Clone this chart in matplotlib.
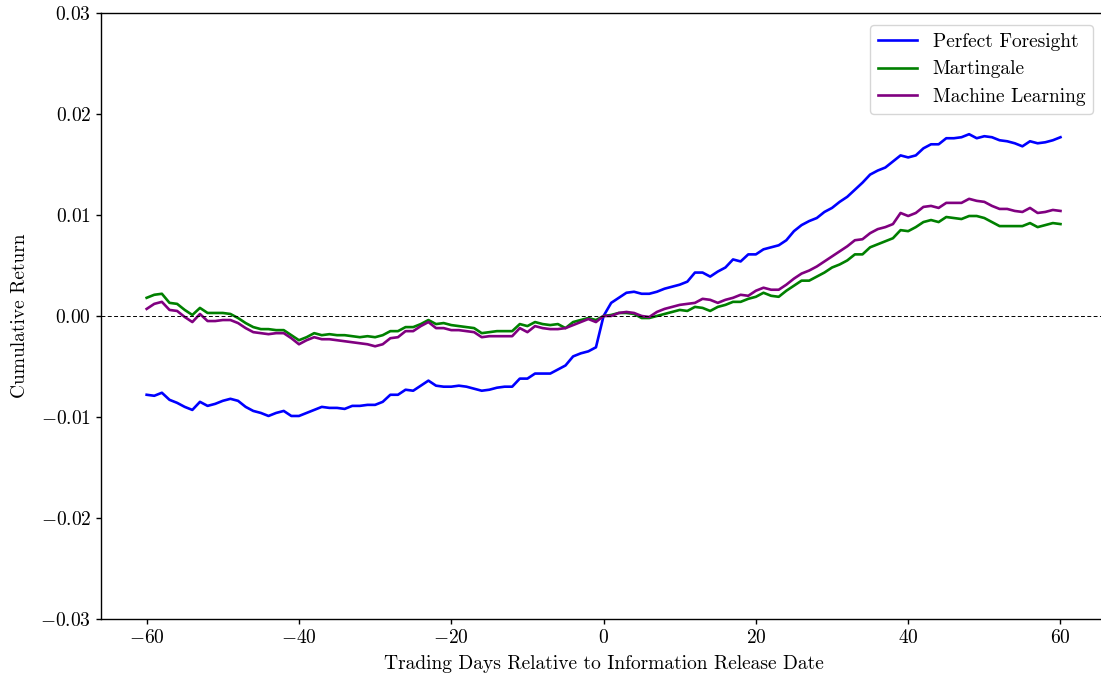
import numpy as np
import matplotlib
matplotlib.use("Agg")
import matplotlib.pyplot as plt

plt.rcParams['font.family'] = 'serif'
plt.rcParams['font.serif'] = ['cmr10', 'DejaVu Serif']
plt.rcParams['mathtext.fontset'] = 'cm'
plt.rcParams['axes.formatter.use_mathtext'] = True
plt.rcParams['axes.unicode_minus'] = True

days = list(range(-60, 61))

perfect_foresight = [
    -0.0078, -0.0079, -0.0076, -0.0083, -0.0086, -0.0090, -0.0093, -0.0085, -0.0089, -0.0087,
    -0.0084, -0.0082, -0.0084, -0.0090, -0.0094, -0.0096, -0.0099, -0.0096, -0.0094, -0.0099,
    -0.0099, -0.0096, -0.0093, -0.0090, -0.0091, -0.0091, -0.0092, -0.0089, -0.0089, -0.0088,
    -0.0088, -0.0085, -0.0078, -0.0078, -0.0073, -0.0074, -0.0069, -0.0064, -0.0069, -0.0070,
    -0.0070, -0.0069, -0.0070, -0.0072, -0.0074, -0.0073, -0.0071, -0.0070, -0.0070, -0.0062,
    -0.0062, -0.0057, -0.0057, -0.0057, -0.0053, -0.0049, -0.0040, -0.0037, -0.0035, -0.0031,
    0.0000, 0.0013, 0.0018, 0.0023, 0.0024, 0.0022, 0.0022, 0.0024, 0.0027, 0.0029,
    0.0031, 0.0034, 0.0043, 0.0043, 0.0039, 0.0044, 0.0048, 0.0056, 0.0054, 0.0061,
    0.0061, 0.0066, 0.0068, 0.0070, 0.0075, 0.0084, 0.0090, 0.0094, 0.0097, 0.0103,
    0.0107, 0.0113, 0.0118, 0.0125, 0.0132, 0.0140, 0.0144, 0.0147, 0.0153, 0.0159,
    0.0157, 0.0159, 0.0166, 0.0170, 0.0170, 0.0176, 0.0176, 0.0177, 0.0180, 0.0176,
    0.0178, 0.0177, 0.0174, 0.0173, 0.0171, 0.0168, 0.0173, 0.0171, 0.0172, 0.0174,
    0.0177,
]

martingale = [
    0.0018, 0.0021, 0.0022, 0.0013, 0.0012, 0.0006, 0.0001, 0.0008, 0.0003, 0.0003,
    0.0003, 0.0002, -0.0002, -0.0007, -0.0011, -0.0013, -0.0013, -0.0014, -0.0014, -0.0019,
    -0.0024, -0.0021, -0.0017, -0.0019, -0.0018, -0.0019, -0.0019, -0.0020, -0.0021, -0.0020,
    -0.0021, -0.0019, -0.0015, -0.0015, -0.0011, -0.0011, -0.0008, -0.0004, -0.0008, -0.0007,
    -0.0009, -0.0010, -0.0011, -0.0012, -0.0017, -0.0016, -0.0015, -0.0015, -0.0015, -0.0008,
    -0.0010, -0.0006, -0.0008, -0.0009, -0.0008, -0.0012, -0.0006, -0.0004, -0.0002, -0.0004,
    0.0000, 0.0001, 0.0003, 0.0003, 0.0002, -0.0002, -0.0002, 0.0000, 0.0002, 0.0004,
    0.0006, 0.0005, 0.0009, 0.0008, 0.0005, 0.0009, 0.0011, 0.0014, 0.0014, 0.0017,
    0.0019, 0.0023, 0.0020, 0.0019, 0.0025, 0.0030, 0.0035, 0.0035, 0.0039, 0.0043,
    0.0048, 0.0051, 0.0055, 0.0061, 0.0061, 0.0068, 0.0071, 0.0074, 0.0077, 0.0085,
    0.0084, 0.0088, 0.0093, 0.0095, 0.0093, 0.0098, 0.0097, 0.0096, 0.0099, 0.0099,
    0.0097, 0.0093, 0.0089, 0.0089, 0.0089, 0.0089, 0.0092, 0.0088, 0.0090, 0.0092,
    0.0091,
]

machine_learning = [
    0.0007, 0.0012, 0.0014, 0.0006, 0.0005, -0.0001, -0.0006, 0.0002, -0.0005, -0.0005,
    -0.0004, -0.0004, -0.0007, -0.0012, -0.0016, -0.0017, -0.0018, -0.0017, -0.0017, -0.0022,
    -0.0028, -0.0024, -0.0021, -0.0023, -0.0023, -0.0024, -0.0025, -0.0026, -0.0027, -0.0028,
    -0.0030, -0.0028, -0.0022, -0.0021, -0.0015, -0.0015, -0.0010, -0.0006, -0.0012, -0.0012,
    -0.0014, -0.0014, -0.0015, -0.0016, -0.0021, -0.0020, -0.0020, -0.0020, -0.0020, -0.0012,
    -0.0016, -0.0010, -0.0012, -0.0013, -0.0013, -0.0012, -0.0009, -0.0006, -0.0003, -0.0006,
    0.0000, 0.0000, 0.0003, 0.0004, 0.0003, 0.0000, -0.0001, 0.0004, 0.0007, 0.0009,
    0.0011, 0.0012, 0.0013, 0.0017, 0.0016, 0.0013, 0.0016, 0.0018, 0.0021, 0.0020,
    0.0025, 0.0028, 0.0026, 0.0026, 0.0031, 0.0037, 0.0042, 0.0045, 0.0049, 0.0054,
    0.0059, 0.0064, 0.0069, 0.0075, 0.0076, 0.0082, 0.0086, 0.0088, 0.0091, 0.0102,
    0.0099, 0.0102, 0.0108, 0.0109, 0.0107, 0.0112, 0.0112, 0.0112, 0.0116, 0.0114,
    0.0113, 0.0109, 0.0106, 0.0106, 0.0104, 0.0103, 0.0107, 0.0102, 0.0103, 0.0105,
    0.0104,
]

series_labels = ["Perfect Foresight", "Martingale", "Machine Learning"]
series_colors = ["#0000ff", "#008000", "#800080"]

fig = plt.figure(figsize=(11.01, 6.77), dpi=100)
ax = fig.add_axes([0.0917, 0.0857, 0.913, 0.8951])

for vals, lab, col in zip([perfect_foresight, martingale, machine_learning], series_labels, series_colors):
    ax.plot(days, vals, color=col, lw=1.9, label=lab)

ax.axhline(0, color='black', lw=0.7, ls='--', dashes=(4, 2.5))
ax.set_ylim(-0.03, 0.03)
ax.set_xlim(-66, 66)
ax.set_xticks([-60, -40, -20, 0, 20, 40, 60])
ax.set_yticks([-0.03, -0.02, -0.01, 0.0, 0.01, 0.02, 0.03])
ax.yaxis.set_major_formatter(matplotlib.ticker.FuncFormatter(lambda v, p: r"$%.2f$" % v))
ax.xaxis.set_major_formatter(matplotlib.ticker.FuncFormatter(lambda v, p: r"$%d$" % v))
for s in ax.spines.values():
    s.set_linewidth(1.0)
ax.spines['right'].set_visible(False)
ax.tick_params(labelsize=14, width=1.0)
ax.set_xlabel("Trading Days Relative to Information Release Date", fontsize=14, labelpad=6)
ax.set_ylabel("Cumulative Return", fontsize=14, labelpad=8)
ax.legend(loc='upper right', fontsize=14, frameon=True, fancybox=True,
          bbox_to_anchor=(0.9925, 0.99), borderaxespad=0.3)

fig.savefig("out.png", dpi=100)
